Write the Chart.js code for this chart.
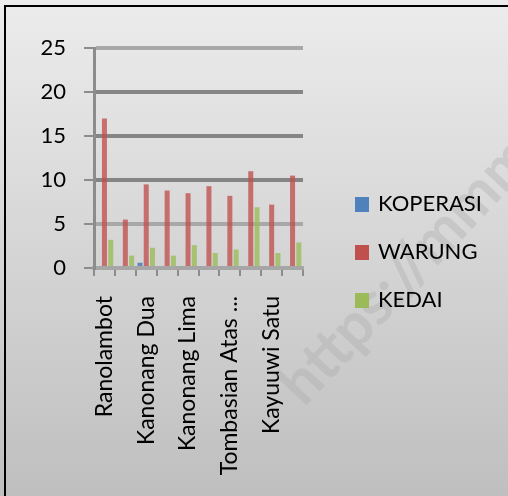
<!DOCTYPE html>
<html>
<head>
<meta charset="utf-8">
<script src="https://cdn.jsdelivr.net/npm/chart.js@4/dist/chart.umd.min.js"></script>
<style>
  html, body { margin: 0; padding: 0; }
  body { width: 508px; height: 496px; position: relative; overflow: hidden; font-family: Lato, sans-serif; }
  #wrap { position: absolute; left: 0; top: 0; width: 508px; height: 496px; }
  #legend { position: absolute; left: 355px; top: 197px; }
  .item { position: relative; height: 48px; font-size: 22px; color: #000; }
  .item span.box { position: absolute; left: 0; top: 0; width: 14px; height: 15px; }
  .item span.txt { position: absolute; left: 23px; top: -8px; white-space: nowrap; }
</style>
</head>
<body>
<div id="wrap"><canvas id="graph_chart" width="508" height="496"></canvas></div>
<div id="legend"></div>
<script>
const categories = ['Ranolambot', 'Kanonang Satu', 'Kanonang Dua', 'Kanonang Tiga', 'Kanonang Lima',
  'Kanonang Empat', 'Tombasian Atas Satu', 'Tombasian Bawah', 'Kayuuwi Satu', 'Kayuuwi'];
const koperasi = [0, 0, 0.6, 0, 0, 0, 0, 0, 0, 0];
const warung = [17, 5.5, 9.5, 8.8, 8.5, 9.3, 8.2, 11, 7.2, 10.5];
const kedai = [3.2, 1.4, 2.3, 1.4, 2.6, 1.7, 2.1, 6.9, 1.7, 2.9];
const yTicks = [0, 5, 10, 15, 20, 25];

const colors = ['#4f81bd', '#c0504d', '#9bbb59'];
const fills = ['rgba(79,129,189,0.9)', 'rgba(192,80,77,0.78)', 'rgba(155,187,89,0.8)'];

// grey panel, black frame at left/top, faint watermark
const background = {
  id: 'background',
  beforeDraw(chart) {
    const ctx = chart.ctx;
    const g = ctx.createLinearGradient(0, 0, 0, 496);
    g.addColorStop(0, '#ececec');
    g.addColorStop(1, '#bfbfbf');
    ctx.save();
    ctx.fillStyle = g;
    ctx.fillRect(0, 0, 508, 496);
    ctx.fillStyle = '#000';
    ctx.fillRect(4, 5, 2, 491);
    ctx.fillRect(4, 5, 504, 2);
    ctx.translate(304, 408);
    ctx.rotate(-Math.PI * 0.26);
    ctx.font = 'bold 60px Lato';
    ctx.fillStyle = 'rgba(170,170,170,0.35)';
    ctx.textAlign = 'left';
    ctx.textBaseline = 'alphabetic';
    ctx.fillText('https://mmm', 0, 0);
    ctx.restore();
  }
};

function gridColor(ctx) {
  const v = ctx.tick ? ctx.tick.value : 0;
  if (v == 0) return '#a6a6a6';
  if (v == 5 || v == 25) return '#a8a8a8';
  return '#858585';
}

const chart = new Chart(document.getElementById('graph_chart'), {
  type: 'bar',
  data: {
    labels: categories,
    datasets: [
      { label: 'KOPERASI', data: koperasi, backgroundColor: fills[0] },
      { label: 'WARUNG', data: warung, backgroundColor: fills[1] },
      { label: 'KEDAI', data: kedai, backgroundColor: fills[2] }
    ]
  },
  options: {
    responsive: false,
    animation: false,
    devicePixelRatio: 1,
    layout: { padding: { top: 48, right: 205, left: 0, bottom: 0 } },
    datasets: { bar: { categoryPercentage: 0.9, barPercentage: 0.8 } },
    plugins: { legend: { display: false }, tooltip: { enabled: false } },
    scales: {
      x: {
        afterFit(scale) { scale.height = 228; },
        grid: { display: true, drawOnChartArea: false, drawTicks: true, tickLength: 8, color: '#8c8c8c', lineWidth: 2 },
        border: { display: true, color: '#a6a6a6', width: 4 },
        ticks: {
          autoSkip: false,
          maxRotation: 90,
          minRotation: 90,
          padding: 20,
          color: '#000',
          font: { family: 'Lato', size: 23 },
          callback: (v, i) => {
            if (i % 2) return '';
            const name = categories[i];
            return name.length > 16 ? name.slice(0, 14) + ' ...' : name;
          }
        }
      },
      y: {
        min: 0,
        max: 25,
        afterFit(scale) { scale.width = 94; },
        afterBuildTicks(scale) { scale.ticks = yTicks.map(v => ({ value: v })); },
        grid: { color: gridColor, lineWidth: 4, drawTicks: true, tickLength: 10, tickColor: '#8c8c8c', tickWidth: 2 },
        border: { display: true, color: '#8c8c8c', width: 3 },
        ticks: { color: '#000', padding: 18, font: { family: 'Lato', size: 22 } }
      }
    }
  },
  plugins: [background]
});

const legend = document.getElementById('legend');
chart.data.datasets.forEach((ds, i) => {
  const row = document.createElement('div');
  row.className = 'item';
  const box = document.createElement('span');
  box.className = 'box';
  box.style.background = colors[i];
  const txt = document.createElement('span');
  txt.className = 'txt';
  txt.textContent = ds.label;
  row.appendChild(box);
  row.appendChild(txt);
  legend.appendChild(row);
});
</script>
</body>
</html>
